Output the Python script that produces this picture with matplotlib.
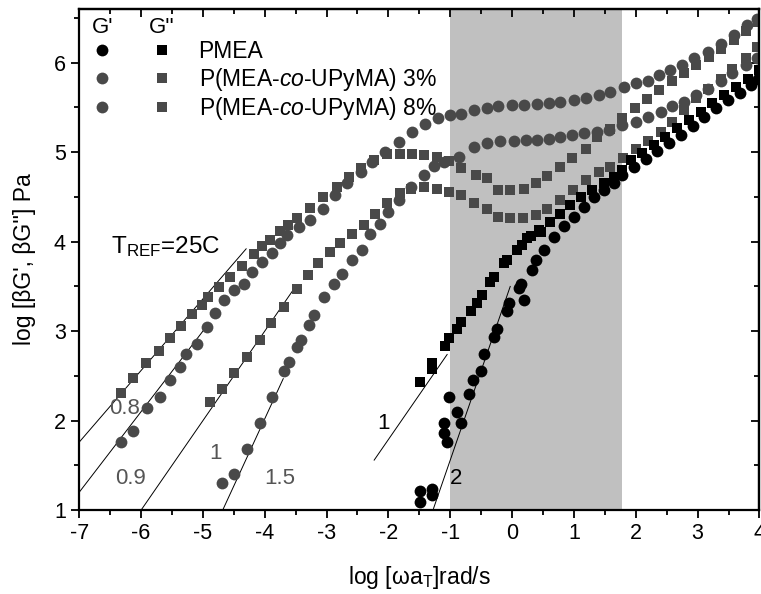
import matplotlib
matplotlib.use("Agg")
import matplotlib.pyplot as plt
from matplotlib.legend_handler import HandlerTuple
from matplotlib.ticker import MultipleLocator

plt.rcParams['font.family'] = ['Liberation Sans', 'DejaVu Sans']
plt.rcParams['mathtext.fontset'] = 'custom'
plt.rcParams['mathtext.rm'] = 'Liberation Sans'
plt.rcParams['mathtext.it'] = 'Liberation Sans:italic'
plt.rcParams['axes.unicode_minus'] = False

# ---- data (log w aT, log modulus) ----
# P(MEA-co-UPyMA) 8%  G'
x_8_gp = [-6.33, -6.13, -5.91, -5.69, -5.53, -5.37, -5.28, -5.10, -4.93, -4.80, -4.66, -4.50,
          -4.34, -4.21, -4.04, -3.88, -3.75, -3.64, -3.45, -3.26, -3.05, -2.86, -2.67, -2.45,
          -2.26, -2.05, -1.83, -1.62, -1.40, -1.20, -1.00, -0.83, -0.62, -0.40, -0.22, 0.00,
          0.19, 0.40, 0.59, 0.78, 1.00, 1.19, 1.40, 1.59, 1.81, 2.00, 2.19, 2.37, 2.56, 2.75,
          2.94, 3.16, 3.37, 3.59, 3.80, 3.96]
y_8_gp = [1.76, 1.89, 2.14, 2.27, 2.45, 2.60, 2.75, 2.86, 3.05, 3.20, 3.35, 3.46,
          3.53, 3.66, 3.77, 3.87, 3.98, 4.07, 4.16, 4.24, 4.37, 4.52, 4.65, 4.78,
          4.89, 5.00, 5.11, 5.22, 5.32, 5.38, 5.41, 5.43, 5.47, 5.49, 5.51, 5.53,
          5.53, 5.54, 5.55, 5.56, 5.58, 5.60, 5.64, 5.67, 5.73, 5.77, 5.80, 5.86, 5.92, 5.97,
          6.05, 6.12, 6.21, 6.31, 6.42, 6.49]
# P(MEA-co-UPyMA) 8%  G''
x_8_gpp = [-6.33, -6.13, -5.92, -5.71, -5.53, -5.35, -5.17, -5.02, -4.91, -4.74, -4.56, -4.37,
           -4.18, -4.05, -3.92, -3.75, -3.62, -3.48, -3.27, -3.05, -2.83, -2.64, -2.45, -2.24,
           -2.02, -1.81, -1.62, -1.43, -1.21, -1.02, -0.83, -0.59, -0.40, -0.22, -0.03, 0.19,
           0.38, 0.57, 0.78, 0.97, 1.19, 1.38, 1.59, 1.78, 1.98, 2.18, 2.38, 2.58, 2.78, 2.98,
           3.18, 3.38, 3.58, 3.78, 3.97]
y_8_gpp = [2.31, 2.48, 2.64, 2.78, 2.92, 3.06, 3.19, 3.29, 3.38, 3.49, 3.61, 3.73,
           3.86, 3.95, 4.02, 4.12, 4.19, 4.27, 4.38, 4.50, 4.61, 4.72, 4.82, 4.91,
           4.98, 4.98, 4.98, 4.97, 4.95, 4.90, 4.82, 4.74, 4.71, 4.58, 4.58, 4.59,
           4.65, 4.73, 4.83, 4.93, 5.04, 5.17, 5.26, 5.38, 5.49, 5.59, 5.69, 5.79, 5.88, 5.97,
           6.06, 6.15, 6.25, 6.35, 6.45]
# P(MEA-co-UPyMA) 3%  G'
x_3_gp = [-4.69, -4.49, -4.29, -4.08, -3.88, -3.69, -3.61, -3.48, -3.42, -3.29, -3.21, -3.04,
          -2.88, -2.75, -2.59, -2.43, -2.29, -2.13, -2.00, -1.83, -1.64, -1.43, -1.27, -1.10,
          -0.86, -0.62, -0.40, -0.19, 0.03, 0.22, 0.40, 0.59, 0.78, 0.97, 1.16, 1.38,
          1.56, 1.78, 2.00, 2.19, 2.40, 2.59, 2.78, 2.97, 3.16, 3.37, 3.56, 3.78, 3.96]
y_3_gp = [1.30, 1.41, 1.68, 1.97, 2.27, 2.56, 2.66, 2.82, 2.90, 3.07, 3.18, 3.38,
          3.53, 3.64, 3.79, 3.91, 4.09, 4.20, 4.33, 4.46, 4.61, 4.74, 4.84, 4.89,
          4.95, 5.06, 5.10, 5.12, 5.12, 5.14, 5.14, 5.15, 5.17, 5.19, 5.21, 5.23,
          5.25, 5.30, 5.34, 5.39, 5.45, 5.51, 5.56, 5.64, 5.71, 5.79, 5.88, 5.97, 6.05]
# P(MEA-co-UPyMA) 3%  G''
x_3_gpp = [-4.88, -4.69, -4.49, -4.29, -4.07, -3.89, -3.69, -3.47, -3.30, -3.13, -2.94, -2.78,
           -2.59, -2.40, -2.21, -2.02, -1.81, -1.64, -1.43, -1.21, -1.02, -0.83, -0.62, -0.40,
           -0.22, -0.03, 0.18, 0.38, 0.57, 0.78, 0.99, 1.19, 1.40, 1.59, 1.79, 2.00,
           2.19, 2.40, 2.59, 2.78, 2.97, 3.16, 3.37, 3.56, 3.78, 3.96]
y_3_gpp = [2.21, 2.35, 2.53, 2.71, 2.90, 3.09, 3.27, 3.47, 3.63, 3.76, 3.88, 3.98,
           4.09, 4.19, 4.31, 4.43, 4.54, 4.59, 4.61, 4.59, 4.56, 4.52, 4.43, 4.37,
           4.28, 4.26, 4.26, 4.30, 4.37, 4.46, 4.58, 4.69, 4.78, 4.83, 4.93, 5.04,
           5.13, 5.23, 5.34, 5.47, 5.60, 5.71, 5.82, 5.93, 6.05, 6.18]
# PMEA G'
x_p_gp = [-1.49, -1.49, -1.29, -1.29, -1.10, -1.10, -1.05, -1.02, -0.89, -0.83, -0.70, -0.64,
          -0.51, -0.46, -0.29, -0.24, -0.08, -0.05, 0.11, 0.19, 0.14, 0.33, 0.38, 0.51,
          0.67, 0.84, 1.00, 1.16, 1.32, 1.48, 1.65, 1.78, 1.97, 2.16, 2.35, 2.54,
          2.73, 2.92, 3.11, 3.30, 3.49, 3.68, 3.87, 3.97]
y_p_gp = [1.09, 1.22, 1.17, 1.24, 1.86, 1.97, 1.76, 2.27, 2.10, 1.97, 2.30, 2.45,
          2.56, 2.75, 2.94, 3.03, 3.23, 3.31, 3.48, 3.35, 3.53, 3.68, 3.79, 3.91,
          4.05, 4.17, 4.28, 4.39, 4.50, 4.58, 4.65, 4.74, 4.83, 4.92, 5.01, 5.10,
          5.19, 5.29, 5.39, 5.49, 5.58, 5.66, 5.75, 5.82]
# PMEA G''
x_p_gpp = [-1.49, -1.29, -1.29, -1.08, -1.02, -0.89, -0.83, -0.67, -0.57, -0.48, -0.35, -0.29,
           -0.13, -0.08, 0.08, 0.16, 0.24, 0.30, 0.43, 0.46, 0.62, 0.78, 0.94, 1.11,
           1.30, 1.48, 1.65, 1.78, 1.92, 2.10, 2.29, 2.48, 2.67, 2.86, 3.05, 3.24,
           3.43, 3.62, 3.81, 3.99]
y_p_gpp = [2.43, 2.64, 2.58, 2.83, 2.92, 3.03, 3.10, 3.23, 3.32, 3.40, 3.55, 3.60,
           3.76, 3.80, 3.91, 3.96, 4.04, 4.06, 4.13, 4.11, 4.22, 4.31, 4.41, 4.50,
           4.58, 4.65, 4.72, 4.80, 4.91, 4.99, 5.08, 5.17, 5.27, 5.36, 5.45, 5.55,
           5.64, 5.73, 5.82, 5.92]

# power-law guide lines: slope, start x, start y, end x, label, label position
guide_slope = [0.8, 0.9, 1.0, 1.5, 1.0, 2.0]
guide_x0 = [-7.0, -7.0, -6.0, -4.68, -2.23, -1.27]
guide_y0 = [1.76, 1.20, 1.00, 1.00, 1.56, 1.02]
guide_x1 = [-4.3, -5.0, -3.5, -3.7, -1.05, -0.03]
guide_text = ['0.8', '0.9', '1', '1.5', '1', '2']
guide_tx = [-6.26, -6.17, -4.80, -3.76, -2.08, -0.90]
guide_ty = [2.14, 1.35, 1.63, 1.35, 1.97, 1.35]
guide_tcol = ['#555555', '#555555', '#555555', '#555555', 'black', 'black']

series_labels = ['PMEA', 'P(MEA-$\\mathit{co}$-UPyMA) 3%', 'P(MEA-$\\mathit{co}$-UPyMA) 8%']
shade_lo, shade_hi = -1.0, 1.78

gray = '#494949'

fig = plt.figure(figsize=(7.61, 5.94), dpi=100)
ax = fig.add_axes([0.104, 0.141, 0.894, 0.844])

ax.axvspan(shade_lo, shade_hi, color='#c0c0c0', lw=0, zorder=0)

for i in range(len(guide_slope)):
    xs = [guide_x0[i], guide_x1[i]]
    ys = [guide_y0[i], guide_y0[i] + guide_slope[i] * (guide_x1[i] - guide_x0[i])]
    ax.plot(xs, ys, color='black', lw=0.7, zorder=1)
    ax.text(guide_tx[i], guide_ty[i], guide_text[i], color=guide_tcol[i], fontsize=16,
            ha='center', va='center')

msc, mss = 8.5, 7.0
s8c, = ax.plot(x_8_gp, y_8_gp, 'o', color=gray, ms=msc, mew=0, zorder=2)
s8s, = ax.plot(x_8_gpp, y_8_gpp, 's', color=gray, ms=mss, mew=0, zorder=2)
s3c, = ax.plot(x_3_gp, y_3_gp, 'o', color=gray, ms=msc, mew=0, zorder=2)
s3s, = ax.plot(x_3_gpp, y_3_gpp, 's', color=gray, ms=mss, mew=0, zorder=2)
pc, = ax.plot(x_p_gp, y_p_gp, 'o', color='black', ms=msc, mew=0, zorder=3)
ps, = ax.plot(x_p_gpp, y_p_gpp, 's', color='black', ms=mss, mew=0, zorder=3)

ax.text(-6.48, 3.94, 'T$_{\\mathrm{REF}}$=25C', fontsize=17.5, va='center', ha='left')

# legend: G' and G'' markers side by side
leg = ax.legend([(pc, ps), (s3c, s3s), (s8c, s8s)], series_labels,
                handler_map={tuple: HandlerTuple(ndivide=None, pad=1.62)},
                handlelength=3.62, handletextpad=1.1, labelspacing=0.1,
                loc='upper left', bbox_to_anchor=(0.0165, 0.937), borderaxespad=0,
                borderpad=0, frameon=False, fontsize=16.5)
ax.text(0.034, 0.962, "G'", transform=ax.transAxes, fontsize=16, ha='center', va='center')
ax.text(0.122, 0.962, "G''", transform=ax.transAxes, fontsize=16, ha='center', va='center')

ax.set_xlim(-7, 4)
ax.set_ylim(1, 6.6)
ax.xaxis.set_major_locator(MultipleLocator(1))
ax.xaxis.set_minor_locator(MultipleLocator(0.5))
ax.yaxis.set_major_locator(MultipleLocator(1))
ax.yaxis.set_minor_locator(MultipleLocator(0.5))
ax.tick_params(which='both', direction='out', width=1.3, labelsize=15.5)
ax.tick_params(which='major', length=6)
ax.tick_params(which='minor', length=3.5)
for sp in ax.spines.values():
    sp.set_linewidth(1.6)

top = ax.secondary_xaxis('top')
top.xaxis.set_major_locator(MultipleLocator(1))
top.xaxis.set_minor_locator(MultipleLocator(0.5))
top.tick_params(which='both', direction='in', labeltop=False, width=1.3)
top.tick_params(which='major', length=6)
top.tick_params(which='minor', length=3.5)
right = ax.secondary_yaxis('right')
right.yaxis.set_major_locator(MultipleLocator(1))
right.yaxis.set_minor_locator(MultipleLocator(0.5))
right.tick_params(which='both', direction='in', labelright=False, width=1.3)
right.tick_params(which='major', length=6)
right.tick_params(which='minor', length=3.5)
for sec in (top, right):
    for sp in sec.spines.values():
        sp.set_linewidth(1.6)

ax.set_xlabel('log [\u03c9a$_\\mathrm{T}$]rad/s', fontsize=16.5, labelpad=14)
ax.set_ylabel("log [\u03b2G', \u03b2G''] Pa", fontsize=16.5, labelpad=13)

fig.savefig('out.png', dpi=100)
